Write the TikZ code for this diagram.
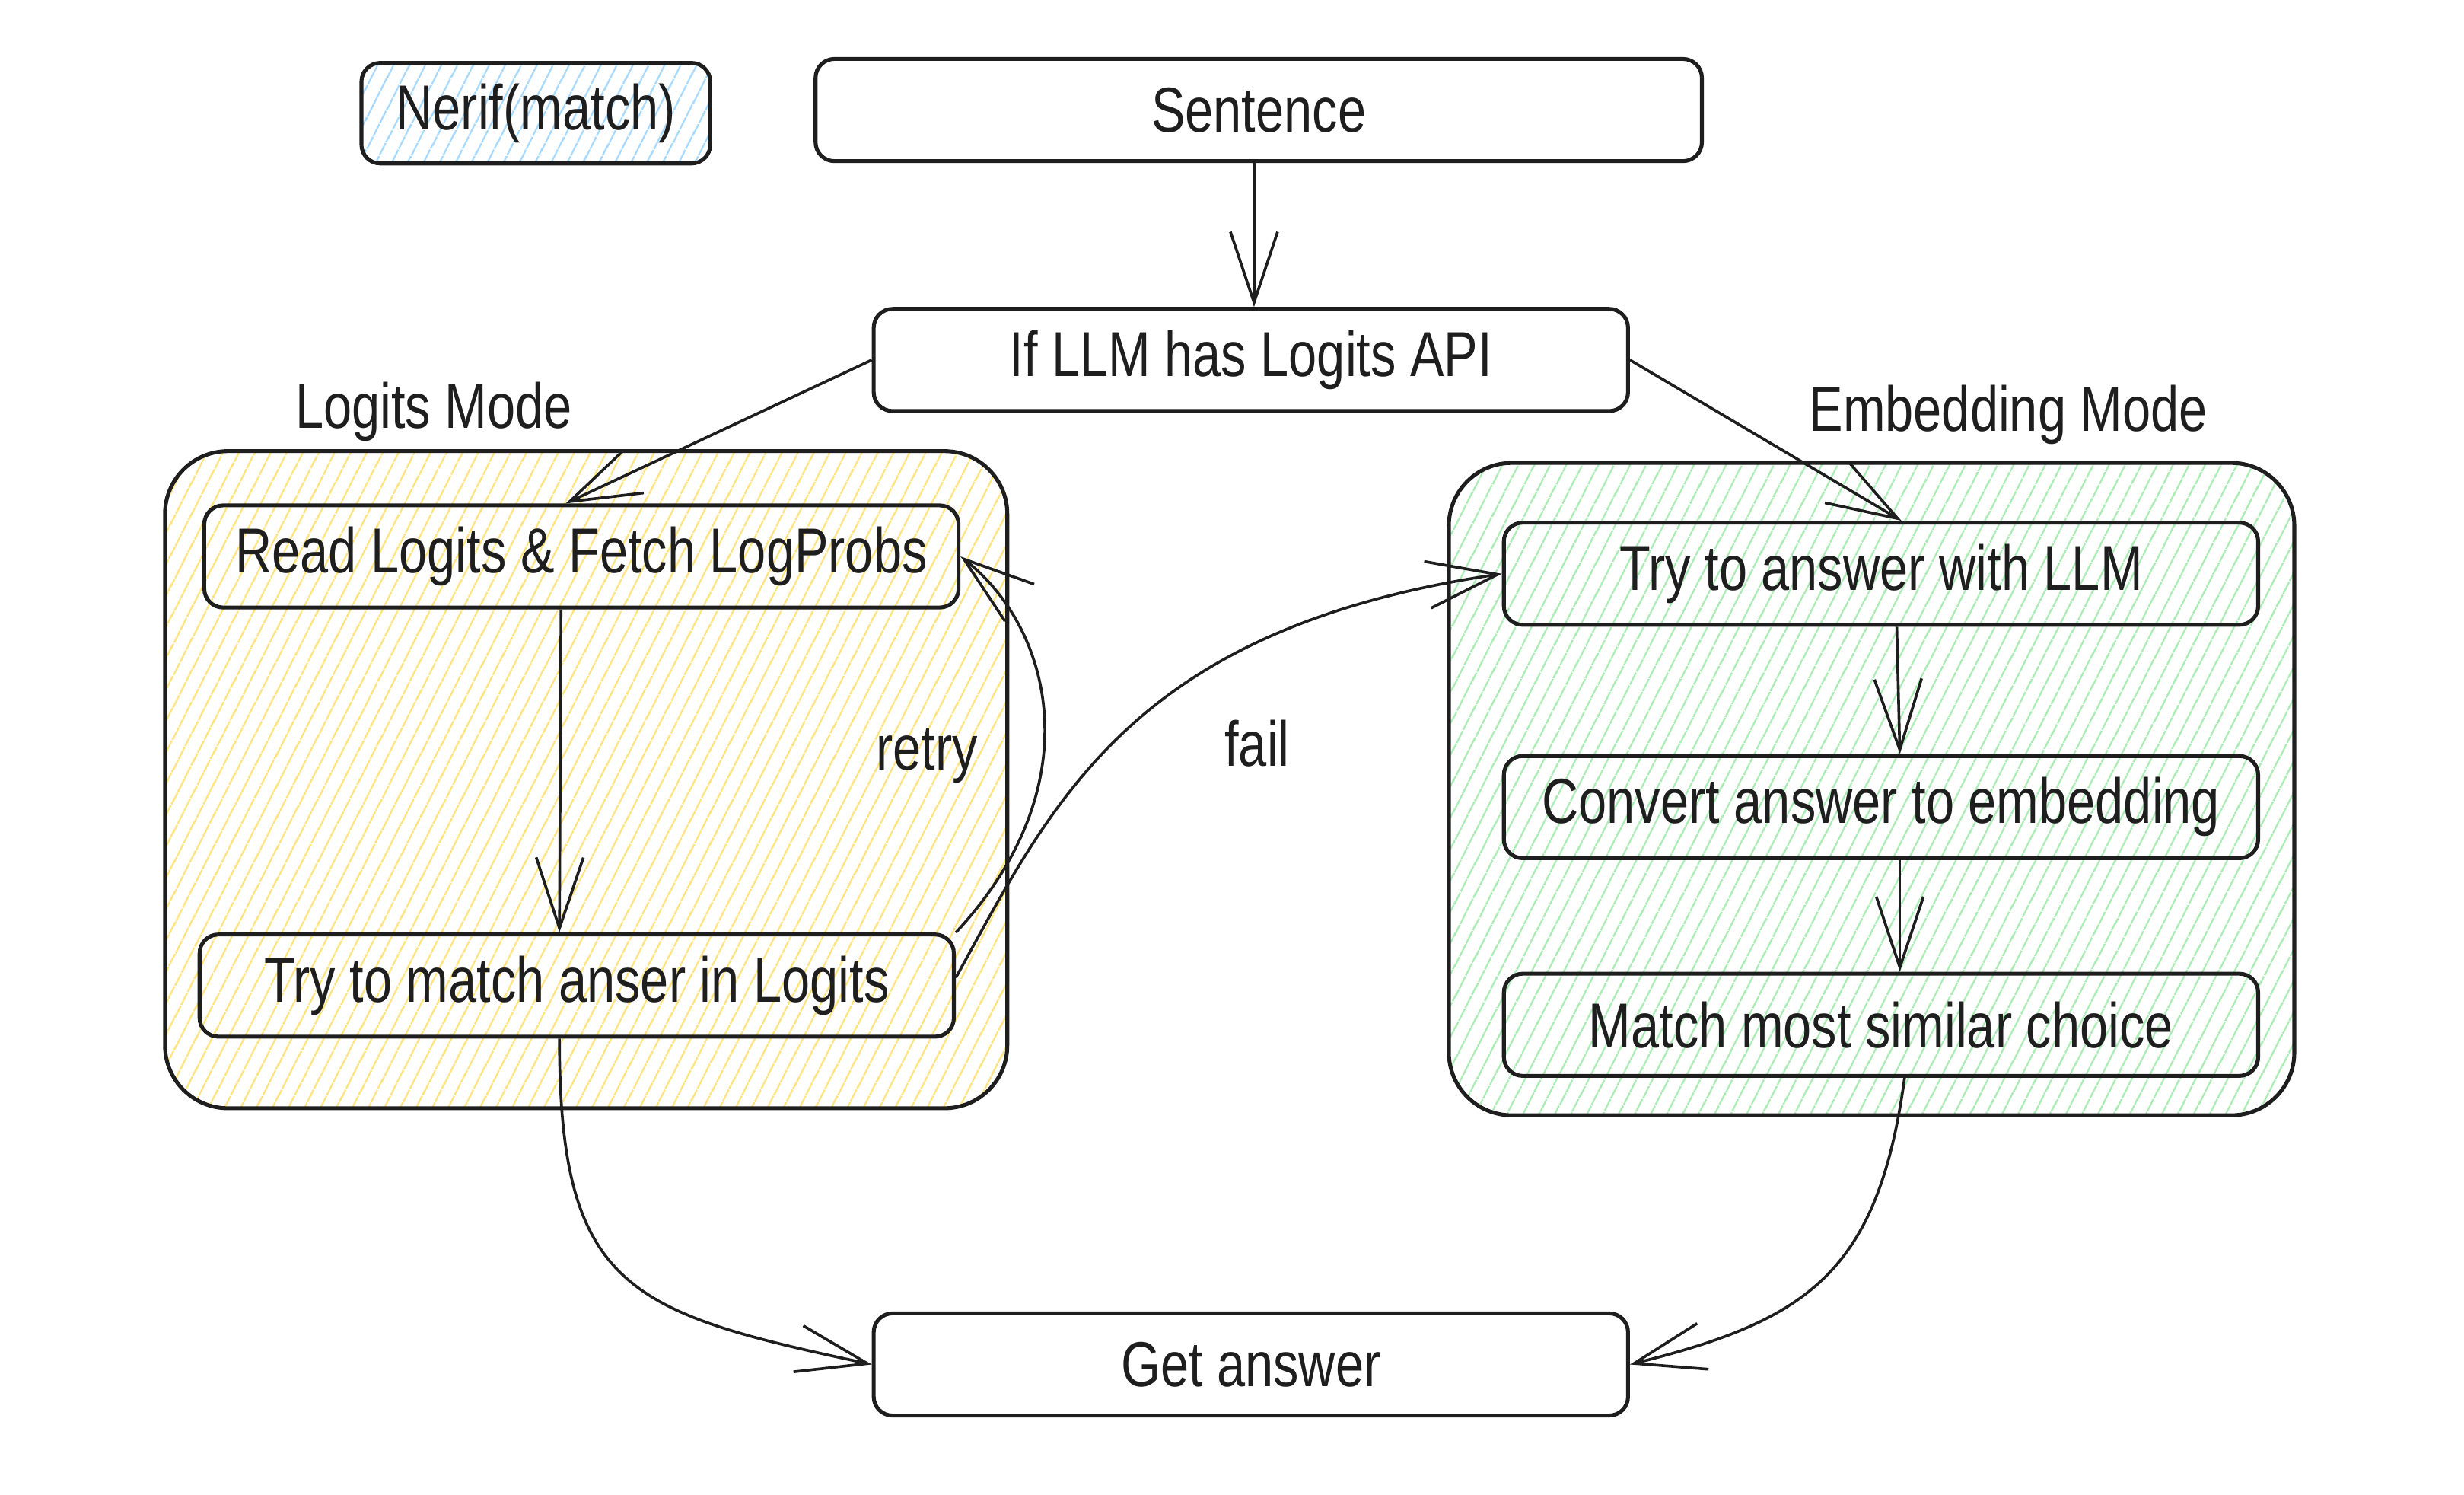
\documentclass[tikz,border=0pt]{standalone}
\usepackage{fontspec}
\setmainfont{Liberation Sans}[FakeStretch=0.8]
\usetikzlibrary{positioning, arrows.meta, patterns.meta}
\definecolor{ink}{HTML}{1E1E1E}
\definecolor{hatchblue}{HTML}{A5D8FF}
\definecolor{hatchyellow}{HTML}{FFE27A}
\definecolor{hatchgreen}{HTML}{A8EBB2}
\tikzset{>={Straight Barb[length=9mm, width=6mm]},
every node/.style={font=\fontsize{23}{27}\selectfont, text=ink},
box/.style={draw=ink, line width=1.4pt, rounded corners=2.4mm, minimum width=96mm, minimum height=13mm, inner sep=0pt},
modebox/.style={draw=ink, line width=1.4pt, rounded corners=8mm, inner sep=0pt},
hatch/.style={pattern={Lines[angle=63, distance=1.8mm, line width=0.7pt]}, pattern color=#1},
flow/.style={->, draw=ink, line width=1pt},
}

\begin{document}
\begin{tikzpicture}[x=0.2mm, y=-0.2mm]
            \useasboundingbox (0,0) rectangle (1568,951);

            \node[modebox, hatch=hatchyellow, minimum width=107.2mm, minimum height=83.6mm] (logitsmode) at (373,496) {};
            \node[modebox, hatch=hatchgreen, minimum width=107.6mm, minimum height=83mm] (embedmode) at (1191,502) {};
            \node (logitslabel) at (276,262) {Logits Mode};
            \node (embedlabel) at (1278,264) {Embedding Mode};

            \node[box, hatch=hatchblue, minimum width=44.4mm, minimum height=12.8mm] (nerif) at (341,72) {Nerif(match)};
            \node[box, minimum width=112.8mm] (sentence) at (801,70) {Sentence};
            \node[box] (ifapi) at (796,229) {If LLM has Logits API};
            \node[box] (read) at (370,354) {Read Logits \& Fetch LogProbs};
            \node[box] (trymatch) at (367,627) {Try to match anser in Logits};
            \node[box] (tryllm) at (1197,365) {Try to answer with LLM};
            \node[box, below=16.2mm of tryllm] (convert) {Convert answer to embedding};
            \node[box, below=14.2mm of convert] (similar) {Match most similar choice};
            \node[box] (getans) at (796,868) {Get answer};
            \node (retrylabel) at (590,481) {retry};
            \node (faillabel) at (800,473) {fail};

            \draw[flow] ([xshift=-0.6mm]sentence.south) -- ([xshift=-0.6mm]sentence.south |- ifapi.north);
            \draw[flow] (ifapi.west) -- ([xshift=-2mm]read.north);
            \draw[flow] (ifapi.east) -- ([xshift=2.6mm]tryllm.north);
            \draw[flow] ([xshift=-2.6mm]read.south) -- ([xshift=-2.2mm]trymatch.north);
            \draw[flow] (trymatch.north east) .. controls (695,500) and (670,400) .. (read.east);
            \draw[flow] ([yshift=1mm]trymatch.east) .. controls (670,510) and (720,400) .. (tryllm.west);
            \draw[flow] ([xshift=2mm]tryllm.south) -- ([xshift=2.4mm]convert.north);
            \draw[flow] ([xshift=2.4mm]convert.south) -- ([xshift=2.4mm]similar.north);
            \draw[flow] ([xshift=-2.2mm]trymatch.south) .. controls (356,820) and (400,835) .. (getans.west);
            \draw[flow] ([xshift=3mm]similar.south) .. controls (1195,810) and (1150,840) .. (getans.east);
        \end{tikzpicture}
\end{document}
